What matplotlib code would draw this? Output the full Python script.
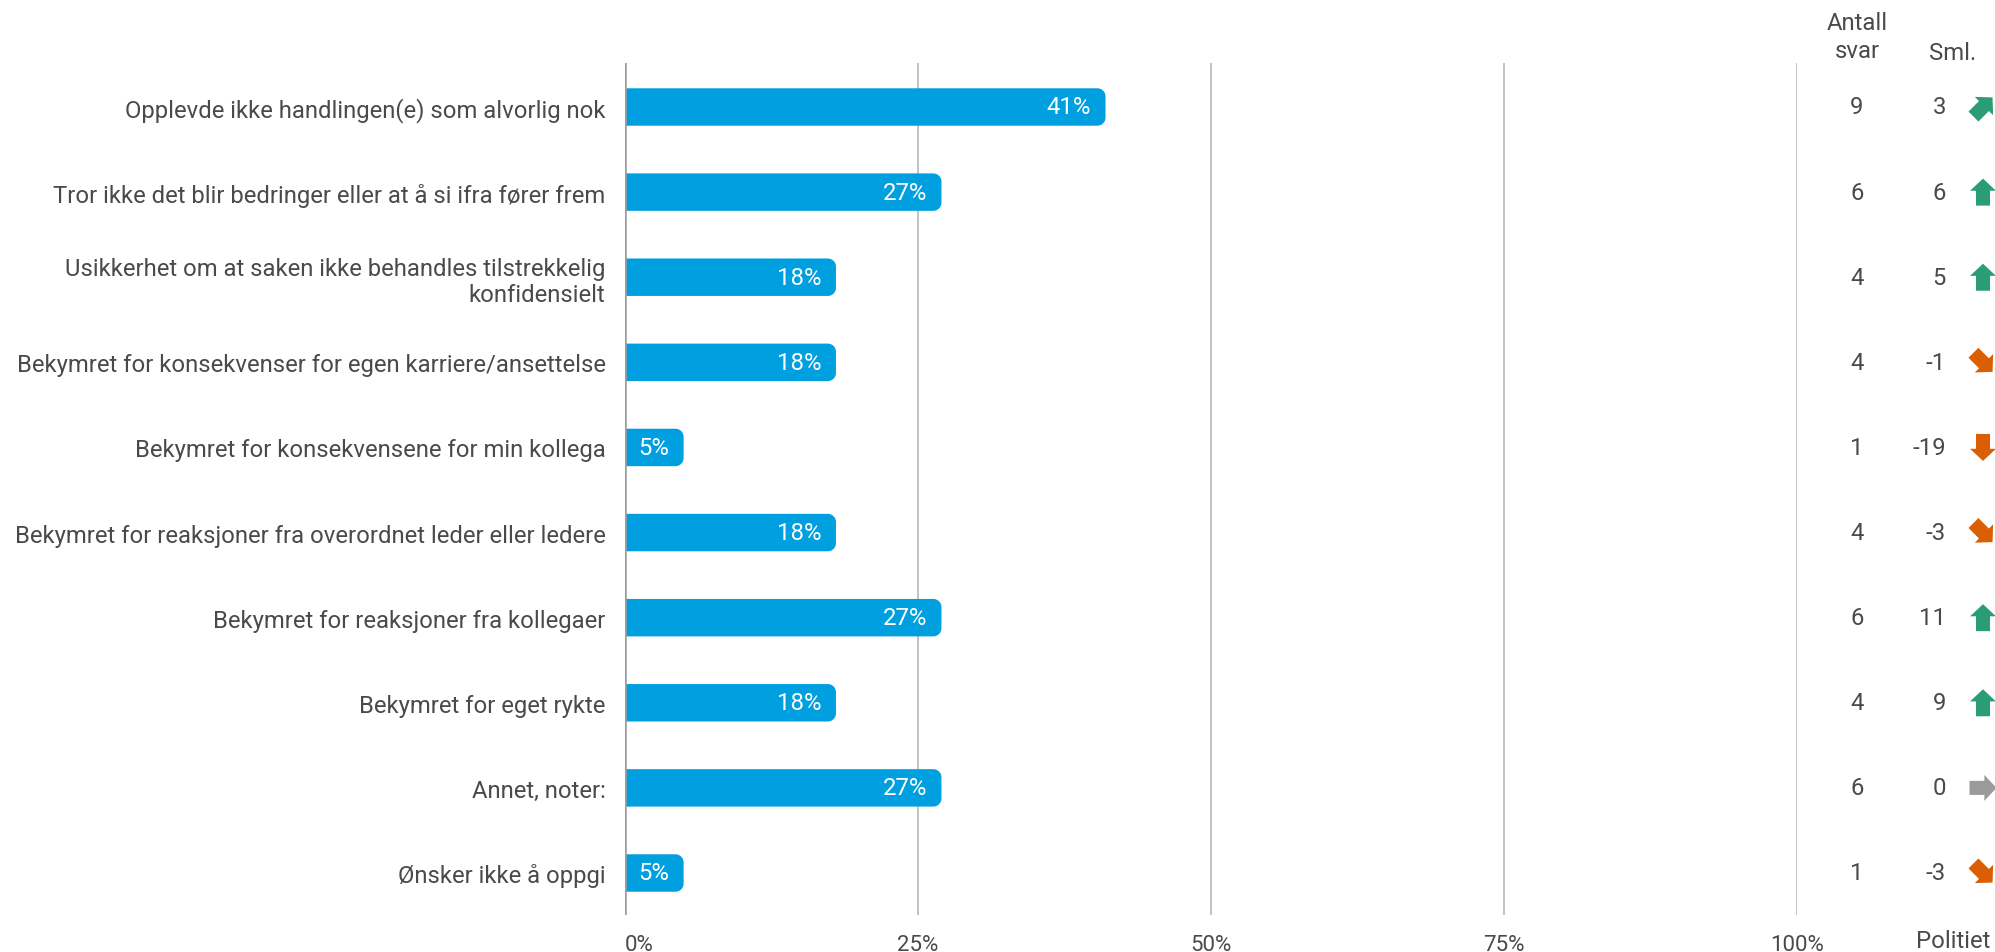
import matplotlib
matplotlib.use("Agg")
import matplotlib.pyplot as plt
import matplotlib.patches as mpatches
from matplotlib.transforms import IdentityTransform, blended_transform_factory
import numpy as np

plt.rcParams["font.family"] = ["Roboto", "DejaVu Sans"]

categories = [
    "Opplevde ikke handlingen(e) som alvorlig nok",
    "Tror ikke det blir bedringer eller at å si ifra fører frem",
    "Usikkerhet om at saken ikke behandles tilstrekkelig\nkonfidensielt",
    "Bekymret for konsekvenser for egen karriere/ansettelse",
    "Bekymret for konsekvensene for min kollega",
    "Bekymret for reaksjoner fra overordnet leder eller ledere",
    "Bekymret for reaksjoner fra kollegaer",
    "Bekymret for eget rykte",
    "Annet, noter:",
    "Ønsker ikke å oppgi",
]
percent = [41, 27, 18, 18, 5, 18, 27, 18, 27, 5]
antall = [9, 6, 4, 4, 1, 4, 6, 4, 6, 1]
sml = [3, 6, 5, -1, -19, -3, 11, 9, 0, -3]
xticks = [0, 25, 50, 75, 100]

BAR = "#009fe0"
TEXT = "#4a4a4a"
GREEN = "#2a9d74"
ORANGE = "#d95f02"
GREY = "#9b9b9b"
FS = 17.2

W, H = 1995, 953
fig = plt.figure(figsize=(W / 100, H / 100), dpi=100)
fig.patch.set_facecolor("white")

# axes placed in pixel terms
x0, x1 = 625, 1797
ytop, ybot = 64, 916
ax = fig.add_axes([x0 / W, 1 - ybot / H, (x1 - x0) / W, (ybot - ytop) / H])
n = len(categories)
row = (874 - 108) / 9
ax.set_xlim(0, 100)
ax.set_ylim((ybot - 108) / row, -(108 - ytop) / row)
for s in ax.spines.values():
    s.set_visible(False)

ax.set_xticks(xticks)
ax.set_xticklabels([f"{t}%" for t in xticks])
ax.get_xticklabels()[0].set_horizontalalignment("left")
ax.grid(axis="x", color="#bdbdbd", lw=1.3)
ax.set_axisbelow(True)
ax.axvline(0, color="#9e9e9e", lw=2.6, zorder=4)

ax.set_yticks(range(n))
ax.set_yticklabels(categories)
ax.tick_params(axis="y", length=0, pad=14, labelsize=FS, labelcolor=TEXT)
ax.tick_params(axis="x", length=0, pad=14, labelsize=16, labelcolor=TEXT)

# bars: square left end, rounded right corners (one polygon each, no seams)
bh = 0.44
rx = 0.7
ry = 0.095
t = np.linspace(0, np.pi / 2, 12)
for i, v in enumerate(percent):
    top, bot = i - bh / 2, i + bh / 2
    c1 = np.column_stack([v - rx + rx * np.sin(t), top + ry - ry * np.cos(t)])
    c2 = np.column_stack([v - rx + rx * np.cos(t), bot - ry + ry * np.sin(t)])
    pts = np.vstack([[[0, top]], c1, c2, [[0, bot]]])
    ax.add_patch(mpatches.Polygon(pts, closed=True, facecolor=BAR,
                                  edgecolor="none", zorder=3))
    ax.text(v - 1.25, i, f"{v}%", ha="right", va="center", color="white",
            fontsize=FS, zorder=5)

# right-hand columns
tr = blended_transform_factory(fig.transFigure, ax.transData)
fig.text(1857 / W, 1 - 24 / H, "Antall", ha="center", va="center", fontsize=FS, color=TEXT)
fig.text(1857 / W, 1 - 52 / H, "svar", ha="center", va="center", fontsize=FS, color=TEXT)
fig.text(1953 / W, 1 - 54 / H, "Sml.", ha="center", va="center", fontsize=FS, color=TEXT)
fig.text(1953 / W, 1 - 942 / H, "Politiet", ha="center", va="center", fontsize=FS, color=TEXT)
for i in range(n):
    ax.text(1857 / W, i, str(antall[i]), transform=tr, ha="center", va="center",
            fontsize=FS, color=TEXT)
    ax.text(1946 / W, i, str(sml[i]), transform=tr, ha="right", va="center",
            fontsize=FS, color=TEXT)


def block_arrow(cx, cy, angle, color, size=27):
    # arrow pointing right, centred on origin, in pixels
    L = size
    hw = size * 0.48
    sw = size * 0.26
    hl = size * 0.45
    pts = np.array([
        [-L / 2, -sw], [L / 2 - hl, -sw], [L / 2 - hl, -hw], [L / 2, 0],
        [L / 2 - hl, hw], [L / 2 - hl, sw], [-L / 2, sw],
    ])
    a = np.deg2rad(angle)
    rot = np.array([[np.cos(a), -np.sin(a)], [np.sin(a), np.cos(a)]])
    pts = pts @ rot.T + [cx, cy]
    fig.add_artist(mpatches.Polygon(pts, closed=True, facecolor=color,
                                    edgecolor="none", transform=IdentityTransform()))


for i, v in enumerate(sml):
    if v >= 5:
        ang, col = 90, GREEN
    elif v > 0:
        ang, col = 45, GREEN
    elif v == 0:
        ang, col = 0, GREY
    elif v > -5:
        ang, col = -45, ORANGE
    else:
        ang, col = -90, ORANGE
    _, yd = ax.transData.transform((0, i))
    block_arrow(1983, yd, ang, col)

fig.savefig("out.png", dpi=100, facecolor="white")
